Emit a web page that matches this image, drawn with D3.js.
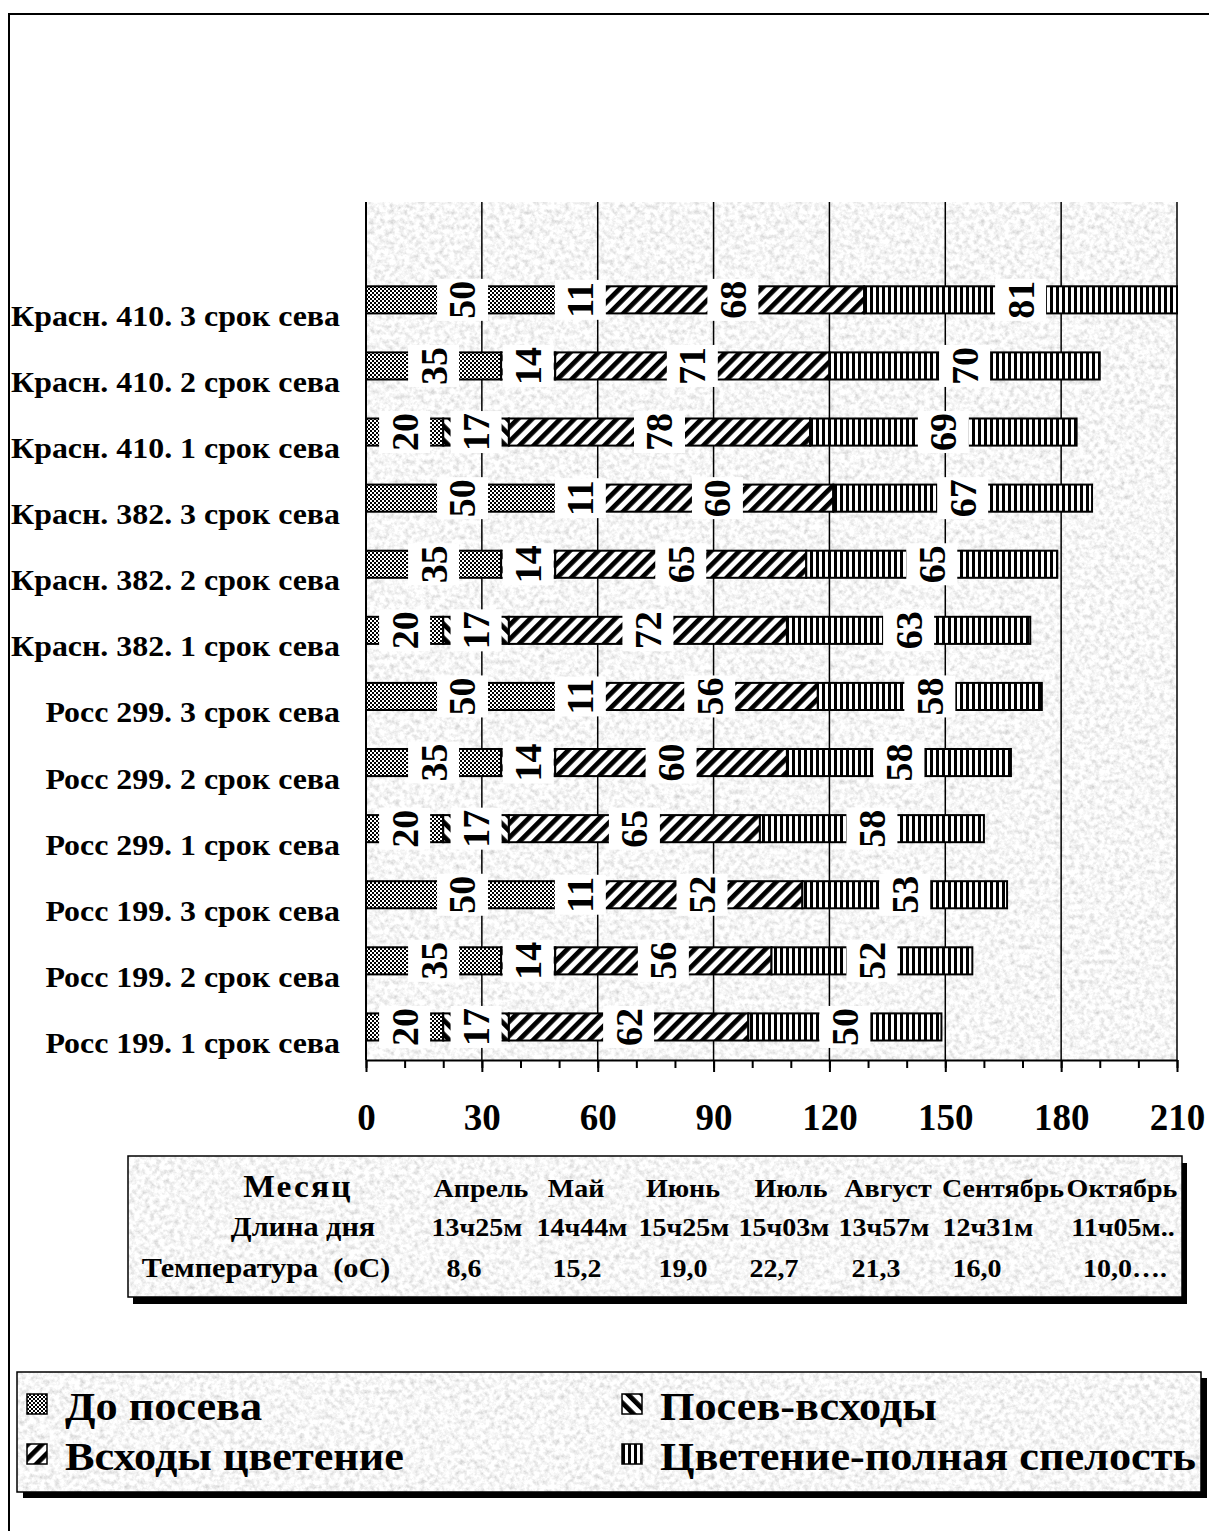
<!DOCTYPE html>
<html>
<head>
<meta charset="utf-8">
<script src="https://cdn.jsdelivr.net/npm/d3@7"></script>
<style>
  html, body { margin: 0; padding: 0; background: #fff; }
  svg { display: block; }
  text { font-family: "Liberation Serif", "Times New Roman", serif; font-weight: bold; fill: #000; white-space: pre; }
</style>
</head>
<body>
<script>
// ---- data ----
const categories = [
  "Красн. 410. 3 срок сева", "Красн. 410. 2 срок сева", "Красн. 410. 1 срок сева",
  "Красн. 382. 3 срок сева", "Красн. 382. 2 срок сева", "Красн. 382. 1 срок сева",
  "Росс 299. 3 срок сева", "Росс 299. 2 срок сева", "Росс 299. 1 срок сева",
  "Росс 199. 3 срок сева", "Росс 199. 2 срок сева", "Росс 199. 1 срок сева"
];
const seriesNames = ["До посева", "Посев-всходы", "Всходы цветение", "Цветение-полная спелость"];
const beforeSowing       = [50, 35, 20, 50, 35, 20, 50, 35, 20, 50, 35, 20];
const sowingEmergence    = [11, 14, 17, 11, 14, 17, 11, 14, 17, 11, 14, 17];
const emergenceFlowering = [68, 71, 78, 60, 65, 72, 56, 60, 65, 52, 56, 62];
const floweringRipeness  = [81, 70, 69, 67, 65, 63, 58, 58, 58, 53, 52, 50];
const xTicks = [0, 30, 60, 90, 120, 150, 180, 210];

const tableTitles = ["Месяц", "Длина дня", "Температура  (oC)"];
const months      = ["Апрель", "Май", "Июнь", "Июль", "Август", "Сентябрь", "Октябрь"];
const dayLength   = ["13ч25м", "14ч44м", "15ч25м", "15ч03м", "13ч57м", "12ч31м", "11ч05м.."];
const temperature = ["8,6", "15,2", "19,0", "22,7", "21,3", "16,0", "10,0…."];

// ---- page ----
const W = 1209, H = 1531;
const svg = d3.select("body").append("svg").attr("width", W).attr("height", H);
const defs = svg.append("defs");

// grainy light-grey paper texture
const granite = defs.append("filter").attr("id", "granite")
  .attr("x", 0).attr("y", 0).attr("width", 1).attr("height", 1);
granite.append("feTurbulence").attr("type", "fractalNoise")
  .attr("baseFrequency", 0.2).attr("numOctaves", 4).attr("seed", 7).attr("result", "n");
granite.append("feColorMatrix").attr("in", "n").attr("type", "matrix")
  .attr("values", "0.7 0 0 0 0.575  0.7 0 0 0 0.575  0.7 0 0 0 0.575  0 0 0 0 1");

// fill patterns for the four stages
function stripes(id, angle, period, bar) {
  const p = defs.append("pattern").attr("id", id).attr("patternUnits", "userSpaceOnUse")
    .attr("width", period).attr("height", period).attr("patternTransform", `rotate(${angle})`);
  p.append("rect").attr("width", period).attr("height", period).attr("fill", "#fff");
  p.append("rect").attr("width", bar).attr("height", period).attr("fill", "#000");
}
const chk = defs.append("pattern").attr("id", "pat0").attr("patternUnits", "userSpaceOnUse")
  .attr("width", 4).attr("height", 4);
chk.append("rect").attr("width", 4).attr("height", 4).attr("fill", "#fff");
chk.append("rect").attr("width", 2).attr("height", 2).attr("fill", "#000");
chk.append("rect").attr("x", 2).attr("y", 2).attr("width", 2).attr("height", 2).attr("fill", "#000");
stripes("pat1", -45, 10, 4.8);
stripes("pat2", 45, 10, 4.8);
stripes("pat3", 0, 6, 3);
const patterns = ["url(#pat0)", "url(#pat1)", "url(#pat2)", "url(#pat3)"];

// outer frame
svg.append("rect").attr("x", 9).attr("y", 14).attr("width", 1400).attr("height", 1700)
  .attr("fill", "none").attr("stroke", "#000").attr("stroke-width", 2);

// ---- chart ----
const plotTop = 202, plotBottom = 1060, plotLeft = 366, plotRight = 1177;
const step = 66.1;
const x = d3.scaleLinear().domain([0, 210]).range([plotLeft, plotRight]);
const y = d3.scaleBand().domain(categories)
  .range([plotBottom - step * categories.length, plotBottom])
  .paddingInner(0.59).paddingOuter(0.295);

svg.append("rect").attr("x", plotLeft).attr("y", plotTop)
  .attr("width", plotRight - plotLeft).attr("height", plotBottom - plotTop)
  .attr("filter", "url(#granite)");

// vertical gridlines
svg.append("g").selectAll("line").data(xTicks.slice(1)).join("line")
  .attr("x1", d => x(d)).attr("x2", d => x(d))
  .attr("y1", plotTop).attr("y2", plotBottom)
  .attr("stroke", "#000").attr("stroke-width", 1.5);

// left axis line
svg.append("line").attr("x1", plotLeft).attr("x2", plotLeft)
  .attr("y1", plotTop).attr("y2", plotBottom)
  .attr("stroke", "#000").attr("stroke-width", 2);

// bottom axis: minor ticks every 10, major every 30
const minor = svg.append("g").attr("transform", `translate(0,${plotBottom})`)
  .call(d3.axisBottom(x).tickValues(d3.range(0, 211, 10)).tickSize(8).tickFormat(""));
minor.select(".domain").remove();
minor.selectAll("line").attr("stroke-width", 2);
const major = svg.append("g").attr("transform", `translate(0,${plotBottom})`)
  .call(d3.axisBottom(x).tickValues(xTicks).tickSize(12).tickSizeOuter(0));
major.select(".domain").attr("stroke-width", 2);
major.selectAll("line").attr("stroke-width", 2);
major.selectAll("text").attr("y", 70).attr("dy", null)
  .style("font-family", '"Liberation Serif", serif').style("font-weight", "bold")
  .style("font-size", "37px").attr("fill", "#000");

// category labels
svg.append("g").selectAll("text").data(categories).join("text")
  .attr("transform", d => `translate(340,${y(d) + y.bandwidth() / 2 + 26}) scale(1.1,1)`)
  .attr("text-anchor", "end").style("font-size", "29px").text(d => d);

// stacked bars
const rows = categories.map((c, i) => ({
  cat: c,
  s0: beforeSowing[i], s1: sowingEmergence[i], s2: emergenceFlowering[i], s3: floweringRipeness[i]
}));
const keys = ["s0", "s1", "s2", "s3"];
const stacked = d3.stack().keys(keys)(rows);

svg.append("g").selectAll("g").data(stacked).join("g")
  .attr("fill", (d, i) => patterns[i])
  .selectAll("rect").data(d => d).join("rect")
  .attr("x", d => x(d[0])).attr("width", d => x(d[1]) - x(d[0]))
  .attr("y", d => y(d.data.cat)).attr("height", y.bandwidth())
  .attr("stroke", "#000").attr("stroke-width", 2);

// value labels, rotated, on white boxes
const labelSize = 38;
const labels = svg.append("g").selectAll("g")
  .data(stacked.flatMap(layer => layer.map(d => ({ d, v: d[1] - d[0] }))))
  .join("g")
  .attr("transform", o => `translate(${x((o.d[0] + o.d[1]) / 2)},${y(o.d.data.cat) + y.bandwidth() / 2}) rotate(-90)`);
labels.append("rect").attr("fill", "#fff");
labels.append("text").attr("text-anchor", "middle").attr("y", labelSize * 0.34)
  .style("font-size", labelSize + "px").text(o => o.v);
labels.each(function () {
  const g = d3.select(this);
  const len = g.select("text").node().getComputedTextLength();
  g.select("rect").attr("x", -len / 2 - 2).attr("width", len + 4)
    .attr("y", -25.5).attr("height", 51);
});

// ---- month table ----
const tb = { x: 128, y: 1156, w: 1054, h: 141 };
svg.append("rect").attr("x", tb.x + 5).attr("y", tb.y + 7).attr("width", tb.w).attr("height", tb.h).attr("fill", "#000");
svg.append("rect").attr("x", tb.x).attr("y", tb.y).attr("width", tb.w).attr("height", tb.h)
  .attr("filter", "url(#granite)");
svg.append("rect").attr("x", tb.x).attr("y", tb.y).attr("width", tb.w).attr("height", tb.h)
  .attr("fill", "none").attr("stroke", "#000").attr("stroke-width", 1.5);

const rowBase = [1197, 1236, 1277];
const titleX = [298, 303, 266];
const colX = [
  [481, 576, 683, 791, 888, 1003, 1122],
  [477, 582, 684, 784, 884, 988, 1123],
  [464, 577, 683, 774, 876, 977, 1125]
];
const tableRows = [months, dayLength, temperature];
const table = svg.append("g");
table.selectAll("text.title").data(tableTitles).join("text").attr("class", "title")
  .attr("transform", (d, i) => `translate(${titleX[i]},${rowBase[i]}) scale(1.08,1)`)
  .attr("text-anchor", "middle")
  .style("font-size", (d, i) => i === 0 ? "31px" : "28px")
  .style("letter-spacing", (d, i) => i === 0 ? "2px" : null)
  .text(d => d);
tableRows.forEach((vals, r) => {
  table.append("g").selectAll("text").data(vals).join("text")
    .attr("transform", (d, i) => `translate(${colX[r][i]},${rowBase[r]}) scale(1.12,1)`)
    .attr("text-anchor", "middle").style("font-size", "25px").text(d => d);
});

// ---- legend ----
const lg = { x: 17, y: 1372, w: 1184, h: 120 };
svg.append("rect").attr("x", lg.x + 6).attr("y", lg.y + 6).attr("width", lg.w).attr("height", lg.h).attr("fill", "#000");
svg.append("rect").attr("x", lg.x).attr("y", lg.y).attr("width", lg.w).attr("height", lg.h)
  .attr("filter", "url(#granite)");
svg.append("rect").attr("x", lg.x).attr("y", lg.y).attr("width", lg.w).attr("height", lg.h)
  .attr("fill", "none").attr("stroke", "#000").attr("stroke-width", 1.5);

const legendCol = [27, 622], legendBase = [1420, 1470];
const items = svg.append("g").selectAll("g").data(seriesNames).join("g")
  .attr("transform", (d, i) => `translate(${legendCol[i % 2]},${legendBase[Math.floor(i / 2)]})`);
items.append("rect").attr("x", 0).attr("y", -26).attr("width", 20).attr("height", 20)
  .attr("fill", (d, i) => patterns[i]).attr("stroke", "#000").attr("stroke-width", 1.5);
items.append("text").attr("transform", "translate(38,0) scale(1.08,1)")
  .style("font-size", "41px").text(d => d);
</script>
</body>
</html>
